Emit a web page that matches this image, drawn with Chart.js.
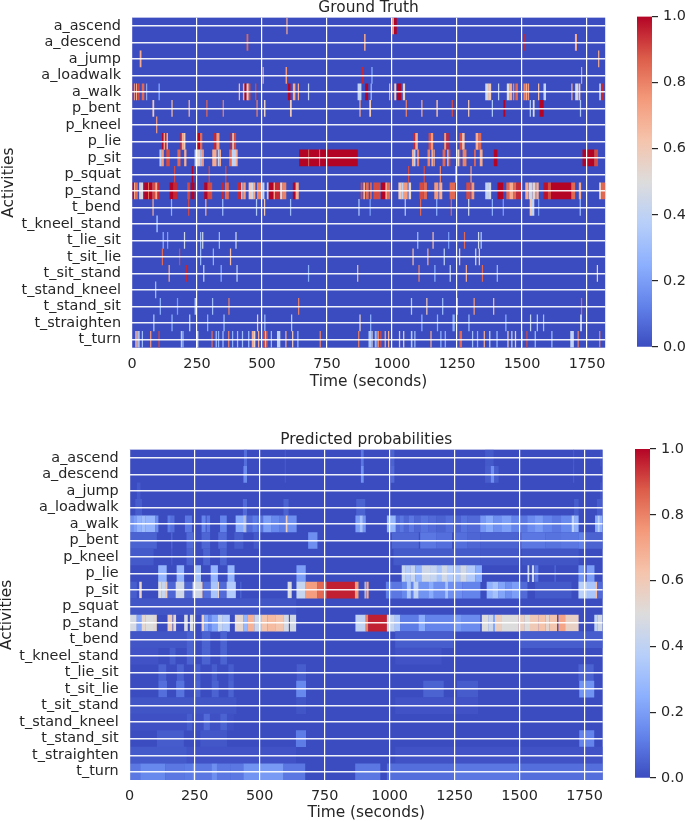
<!DOCTYPE html>
<html>
<head>
<meta charset="utf-8">
<title>Ground truth and predicted probabilities</title>
<script src="https://cdn.jsdelivr.net/npm/chart.js@4"></script>
<style>
  html, body { margin: 0; padding: 0; background: #fff; }
  #page { position: relative; width: 685px; height: 821px; overflow: hidden; }
  canvas { position: absolute; }
</style>
</head>
<body>
<div id="page">
  <canvas id="truthChart" width="620" height="393" style="left:0;top:-2px"></canvas>
  <canvas id="truthBar" width="65" height="391" style="left:620px;top:0"></canvas>
  <canvas id="predChart" width="620" height="392" style="left:-2px;top:430px"></canvas>
  <canvas id="predBar" width="65" height="389" style="left:618px;top:432px"></canvas>
</div>
<script>
const activities = ['a_ascend', 'a_descend', 'a_jump', 'a_loadwalk', 'a_walk', 'p_bent', 'p_kneel', 'p_lie', 'p_sit', 'p_squat',
  'p_stand', 't_bend', 't_kneel_stand', 't_lie_sit', 't_sit_lie', 't_sit_stand', 't_stand_kneel', 't_stand_sit', 't_straighten', 't_turn'];
const timeMax = 1820;
const coolwarmStops = ['#3b4cc0', '#6282ea', '#8db0fe', '#b7cff9', '#dddcdc', '#f5c4ac', '#f49a7b', '#dc5d4a', '#b40426'];

// every segment is [start second, end second, value]
// ground truth
const gtAscend = [[594,598,.7],[1001,1008,.75],[1008,1018,1]];
const gtDescend = [[441,447,.85],[893,898,.7],[1509,1514,.95],[1704,1711,.7]];
const gtJump = [[30,36,.7],[1793,1797,.7]];
const gtLoadwalk = [[503,506,.65],[591,596,.75],[885,892,.95],[921,925,.25],[1728,1731,.65]];
const gtWalk = [[3,8,.95],[8,11,.6],[11,15,1],[15,19,.7],[22,29,.9],[38,47,.85],[55,58,.3],[102,107,.2],[411,415,.65],[427,433,.7],[433,441,1],[441,449,.6],[449,455,.9],
  [474,478,.9],[600,609,1],[619,628,.7],[638,642,.7],[677,681,.4],[868,882,.4],[897,908,1],[918,922,.3],[989,993,.7],[1009,1016,.6],[1019,1034,1],[1042,1050,.55],
  [1359,1370,.45],[1370,1381,.6],[1408,1412,.4],[1442,1452,.5],[1452,1461,.7],[1465,1470,.8],[1475,1484,.85],[1506,1512,.8],[1514,1519,.7],[1522,1527,.75],
  [1562,1566,.65],[1583,1592,.4],[1690,1694,.7],[1705,1716,.45],[1718,1724,.6],[1797,1804,.35],[1804,1814,.95]];
const gtBent = [[79,85,.6],[152,156,.65],[218,222,.65],[286,290,.85],[349,353,.8],[479,483,.8],[508,513,.55],[608,614,.6],[875,879,.7],[913,919,.6],[1053,1057,.8],
  [1113,1117,.7],[1171,1176,.65],[1230,1234,.9],[1293,1297,.6],[1384,1388,.35],[1429,1435,1],[1530,1534,.35],[1542,1548,.5],[1568,1583,1],[1723,1727,.35]];
const gtKneel = [[93,97,.75]];
const gtLie = [[116,122,1],[122,127,.7],[127,133,.95],[133,138,.7],[186,192,.95],[192,199,.7],[199,205,.6],[252,262,1],[262,270,.85],[315,325,.95],[325,336,.75],
  [379,386,.95],[386,392,.6],[392,400,.9],[1081,1090,.95],[1090,1099,.7],[1141,1150,.9],[1150,1158,.75],[1201,1209,.75],[1209,1218,.95],[1260,1270,.9],[1270,1279,.65],[1322,1332,.7],[1332,1343,.85]];
const gtSit = [[106,112,.35],[112,122,.75],[132,145,.9],[175,186,.85],[201,209,.7],[241,250,.4],[250,264,.55],[264,270,.3],[270,276,.75],[309,325,.7],[330,336,.4],[336,342,.7],
  [374,384,.85],[384,400,.4],[400,406,.7],[643,678,1],[678,682,.85],[682,720,1],[720,724,.85],[724,868,1],[1077,1085,.7],[1085,1090,.4],[1096,1104,.8],[1137,1146,.8],[1152,1158,.7],[1160,1164,.7],
  [1195,1205,.85],[1212,1218,.75],[1220,1224,.9],[1252,1258,.55],[1258,1262,.85],[1272,1286,.8],[1316,1322,.85],[1338,1348,.7],[1392,1405,1],[1733,1778,1],[1778,1792,.9]];
const gtSquat = [[162,166,.9],[230,235,1],[295,299,.9],[359,363,.9],[1062,1066,.9],[1122,1126,.9],[1184,1188,.8],[1243,1247,.75],[1302,1306,.75]];
const gtStand = [[2,8,1],[8,12,.7],[12,22,.85],[28,34,.55],[34,42,.45],[47,62,1],[62,66,.85],[66,78,1],[78,90,.9],[90,98,.7],[98,106,.95],[145,158,1],[160,175,.95],[213,222,.9],[226,240,1],
  [278,288,1],[292,308,.9],[343,354,.95],[358,372,.85],[405,420,.95],[420,425,.6],[428,437,.75],[449,458,.6],[458,466,.45],[466,474,.7],[481,498,.8],[501,509,.4],[519,526,.35],[526,545,1],[545,550,.7],
  [550,570,.95],[570,578,.55],[578,593,.8],[619,627,1],[630,641,.7],[880,886,.9],[890,896,.7],[900,910,.85],[916,922,.85],[929,955,.9],[958,975,1],[975,981,.7],[981,993,.85],[1025,1036,.6],[1036,1045,.4],[1045,1060,.75],[1064,1073,.55],
  [1106,1120,.9],[1122,1134,.85],[1163,1178,.75],[1182,1193,.7],[1222,1243,.85],[1286,1302,.9],[1306,1316,.75],[1359,1370,.4],[1370,1381,.45],[1406,1427,1],[1440,1452,.85],[1452,1466,.7],[1466,1478,.85],[1478,1497,.95],
  [1513,1525,.7],[1527,1538,.45],[1540,1552,.55],[1555,1564,.7],[1583,1600,.98],[1600,1612,.9],[1612,1690,1],[1690,1704,.85],[1719,1727,.7],[1797,1805,.6],[1808,1820,.85]];
const gtBend = [[79,83,.7],[150,154,.25],[216,220,.9],[282,286,.7],[347,351,.3],[477,481,.35],[508,512,.6],[608,612,.3],[871,875,.35],[914,918,.2],[1049,1053,.35],[1108,1112,.85],[1170,1174,.25],[1226,1230,.85],
  [1293,1297,.45],[1384,1388,.25],[1426,1430,.2],[1530,1538,.6],[1538,1547,.4],[1562,1566,.2],[1722,1726,.3]];
const gtKneelStand = [[94,99,.3]];
const gtLieSit = [[118,122,.25],[135,139,.2],[200,204,.45],[262,266,.3],[270,274,.45],[334,338,.3],[398,402,.45],[1097,1101,.3],[1156,1160,.65],[1216,1220,.2],[1277,1281,.85],[1331,1335,.45],[1341,1345,.35]];
const gtSitLie = [[115,119,.85],[181,185,.9],[262,266,.3],[311,315,.25],[377,381,.65],[1079,1083,.65],[1136,1140,.7],[1199,1203,.4],[1258,1262,.6],[1320,1324,.45],[1334,1338,.6]];
const gtSitStand = [[141,145,.7],[208,212,.95],[274,278,.4],[341,345,.25],[402,406,.4],[677,681,.25],[866,870,.65],[1102,1106,.8],[1163,1167,.25],[1222,1226,.4],[1284,1288,.7],[1346,1350,.85],[1403,1407,.3],[1788,1792,.55]];
const gtStandKneel = [[89,93,.3]];
const gtStandSit = [[107,111,.25],[173,177,.2],[241,246,.35],[308,312,.3],[371,375,.8],[639,643,.8],[1073,1077,.35],[1132,1136,.6],[1193,1197,.3],[1249,1253,.35],[1314,1318,.75],[1389,1393,.65],[1727,1731,.85]];
const gtStraighten = [[82,86,.35],[152,156,.25],[220,224,.4],[289,293,.25],[352,356,.3],[481,485,.6],[509,513,.3],[612,616,.35],[875,879,.55],[916,920,.25],[1113,1117,.25],[1173,1177,.25],[1233,1241,.25],[1294,1298,.3],
  [1436,1440,.25],[1531,1535,.4],[1557,1561,.35],[1581,1585,.3],[1724,1730,.45]];
const gtTurn = [[13,17,.35],[17,22,.7],[24,29,.4],[38,42,.3],[70,74,.75],[102,106,.9],[188,192,.35],[194,198,.3],[247,255,.4],[306,310,.85],[322,326,.3],[331,335,.25],[348,352,.3],[370,374,.8],[385,389,.25],[404,408,.3],
  [423,427,.3],[447,451,.3],[461,468,.7],[468,474,.55],[485,489,.7],[506,512,.9],[512,517,.65],[517,522,.9],[534,538,.3],[558,570,.4],[590,594,.7],[616,620,.6],[636,640,.3],[722,726,.8],[870,874,.8],[910,919,.35],[921,925,.5],[934,938,.3],[940,944,.3],[946,950,.8],
  [955,959,.9],[972,976,.7],[985,989,.7],[1027,1031,.6],[1043,1047,.55],[1073,1078,.35],[1086,1090,.3],[1148,1152,.7],[1186,1190,.25],[1203,1207,.25],[1260,1269,.85],[1308,1312,.3],[1327,1331,.25],[1353,1357,.7],
  [1374,1378,.4],[1402,1406,.3],[1444,1448,.6],[1459,1463,.4],[1473,1477,.6],[1498,1502,.2],[1517,1521,.9],[1549,1553,.3],[1613,1617,.3],[1686,1699,.4],[1714,1718,.8],[1797,1801,.8]];

// predicted probabilities
const prAscend = [[440,451,.08],[597,601,.03],[890,900,.1],[1005,1018,.05],[1368,1400,.03],[1706,1710,.03],[1811,1815,.03]];
const prDescend = [[438,451,.15],[597,601,.03],[890,900,.17],[1005,1018,.07],[1368,1390,.04],[1390,1403,.16],[1403,1419,.04],[1706,1710,.04]];
const prJump = [[28,41,.03],[1810,1817,.02]];
const prLoadwalk = [[22,47,.04],[436,451,.07],[592,611,.05],[872,906,.05],[1710,1727,.04],[1798,1817,.04]];
const prWalk = [[1,14,.16],[14,27,.2],[27,45,.26],[45,60,.3],[60,98,.27],[98,110,.15],[146,158,.11],[158,172,.08],[213,239,.1],[277,292,.13],[296,309,.1],[348,373,.13],[408,437,.24],[437,442,.35],[442,446,.5],[446,450,.32],[450,472,.07],[472,490,.11],[490,514,.09],
  [514,546,.2],[546,575,.14],[575,598,.11],[600,608,.58],[608,642,.16],[869,885,.2],[885,897,.32],[897,908,.18],[990,1024,.28],[1024,1040,.07],[1040,1055,.1],[1055,1075,.06],[1075,1095,.1],[1095,1120,.06],[1120,1150,.09],[1150,1180,.07],[1180,1215,.05],[1215,1245,.08],[1245,1275,.05],
  [1275,1300,.09],[1300,1349,.07],[1349,1370,.18],[1370,1400,.23],[1400,1430,.16],[1430,1470,.2],[1470,1500,.13],[1500,1530,.1],[1530,1560,.15],[1560,1590,.19],[1590,1625,.13],[1625,1660,.1],[1660,1701,.14],[1701,1712,.38],[1712,1727,.26],[1791,1800,.24],[1800,1809,.38],[1809,1819,.26]];
const prBent = [[1,104,.05],[160,164,.07],[219,245,.07],[277,309,.06],[341,373,.07],[403,437,.04],[477,502,.03],[687,722,.16],[1009,1112,.06],[1118,1180,.1],[1180,1240,.08],[1253,1300,.08],[1300,1349,.06],[1349,1496,.05],[1507,1600,.1],[1600,1660,.09],[1660,1727,.1],[1727,1753,.12],[1753,1819,.05]];
const prKneel = [[1,92,.03],[160,164,.04],[219,245,.05],[283,309,.05],[348,373,.05],[1015,1349,.03],[1349,1496,.025],[1510,1727,.02]];
const prLie = [[110,142,.27],[181,209,.27],[248,274,.32],[312,339,.27],[377,403,.27],[642,677,.2],[1047,1060,.42],[1060,1080,.36],[1080,1099,.42],[1099,1124,.27],[1124,1156,.45],[1156,1182,.42],[1182,1199,.33],[1199,1221,.46],[1221,1246,.36],[1246,1272,.33],[1272,1297,.46],[1297,1330,.36],[1330,1355,.24],
  [1531,1537,.42],[1548,1556,.42],[1560,1572,.1],[1635,1639,.07],[1727,1753,.17],[1759,1788,.2]];
const prSit = [[1,27,.04],[37,46,.55],[110,123,.48],[123,139,.42],[139,146,.6],[146,175,.06],[177,210,.45],[213,240,.06],[242,274,.45],[274,280,.6],[283,310,.08],[312,339,.33],[339,344,.55],[346,370,.07],[373,408,.36],[425,430,.05],[608,623,.48],[642,677,.42],[678,722,.74],[722,758,.85],[758,867,.96],[867,880,.75],[904,908,.45],
  [911,919,.7],[986,1009,.12],[1009,1047,.1],[1047,1067,.14],[1067,1082,.34],[1082,1092,.13],[1092,1112,.4],[1112,1150,.17],[1150,1170,.24],[1170,1214,.16],[1214,1225,.32],[1225,1280,.16],[1280,1349,.13],[1374,1395,.26],[1395,1419,.32],[1419,1445,.22],[1445,1470,.16],[1470,1503,.2],[1503,1530,.07],[1560,1700,.03],
  [1727,1760,.38],[1760,1791,.34],[1791,1799,.65],[1799,1819,.07]];
const prSquat = [[2,640,.02]];
const prStand = [[1,27,.47],[27,46,.22],[46,60,.53],[60,90,.5],[90,104,.53],[146,164,.58],[168,178,.53],[210,223,.48],[232,245,.48],[277,287,.58],[287,302,.22],[302,315,.14],[315,340,.22],[340,358,.42],[358,385,.36],[405,437,.53],[437,454,.28],[454,480,.68],[480,508,.44],[508,530,.62],[530,560,.65],[560,591,.62],[591,612,.47],[617,640,.46],
  [869,908,.4],[908,918,.8],[918,990,.96],[990,1020,.42],[1020,1041,.34],[1041,1112,.11],[1112,1137,.24],[1137,1246,.13],[1246,1275,.19],[1275,1349,.15],[1355,1380,.5],[1380,1400,.44],[1400,1406,.22],[1406,1432,.57],[1432,1496,.5],[1496,1520,.57],[1520,1540,.5],[1540,1573,.6],[1573,1600,.63],[1600,1615,.54],[1615,1644,.62],[1650,1676,.72],[1676,1727,.56],[1788,1800,.4],[1800,1819,.46]];
const prBend = [[2,240,.02],[220,246,.05],[278,310,.05],[349,374,.05],[1022,1246,.04],[1503,1819,.04]];
const prKneelStand = [[2,110,.015],[154,176,.04],[220,246,.05],[278,310,.05],[349,374,.05],[1022,1200,.015]];
const prLieSit = [[111,140,.05],[182,208,.05],[252,272,.04],[316,336,.04],[380,400,.04],[643,678,.04],[1727,1785,.05]];
const prSitLie = [[111,143,.08],[179,210,.09],[252,272,.05],[316,342,.05],[380,400,.05],[641,678,.14],[1130,1208,.05],[1260,1340,.035],[1730,1787,.17]];
const prSitStand = [[2,410,.02],[641,678,.02],[1022,1340,.015]];
const prStandKneel = [[2,400,.01],[220,240,.04],[285,308,.07],[349,374,.05]];
const prStandSit = [[105,208,.035],[272,374,.025],[640,678,.11],[1730,1787,.13]];
const prStraighten = [[2,220,.03],[220,640,.015],[1022,1819,.015]];
const prTurn = [[2,41,.1],[41,137,.14],[137,210,.1],[210,243,.11],[243,252,.18],[252,316,.1],[316,336,.16],[336,387,.1],[387,438,.1],[438,502,.17],[502,592,.19],[592,675,.1],[868,964,.1],[990,1246,.08],[1246,1496,.1],[1496,1819,.08]];

const truthRows = [gtAscend, gtDescend, gtJump, gtLoadwalk, gtWalk, gtBent, gtKneel, gtLie, gtSit, gtSquat, gtStand, gtBend, gtKneelStand, gtLieSit, gtSitLie, gtSitStand, gtStandKneel, gtStandSit, gtStraighten, gtTurn];
const predRows = [prAscend, prDescend, prJump, prLoadwalk, prWalk, prBent, prKneel, prLie, prSit, prSquat, prStand, prBend, prKneelStand, prLieSit, prSitLie, prSitStand, prStandKneel, prStandSit, prStraighten, prTurn];

const textColor = '#262626';
const fontFamily = '"DejaVu Sans", sans-serif';

Chart.defaults.font.family = fontFamily;
Chart.defaults.color = textColor;
Chart.defaults.animation = false;

function hexToRgb(hex) {
  return [1, 3, 5].map(i => parseInt(hex.slice(i, i + 2), 16));
}

// colormap lookup, value 0..1
function coolwarm(v) {
  const pos = v * (coolwarmStops.length - 1);
  const i = Math.min(Math.floor(pos), coolwarmStops.length - 2);
  const a = hexToRgb(coolwarmStops[i]);
  const b = hexToRgb(coolwarmStops[i + 1]);
  const c = a.map((n, k) => Math.round(n + (b[k] - n) * (pos - i)));
  return `rgb(${c[0]},${c[1]},${c[2]})`;
}

// fills the plot with the colour of value 0
const zeroBackground = {
  id: 'zeroBackground',
  beforeDatasetsDraw(chart) {
    const { ctx, chartArea: a } = chart;
    ctx.save();
    ctx.fillStyle = coolwarm(0);
    ctx.fillRect(a.left, a.top, a.right - a.left, a.bottom - a.top);
    ctx.restore();
  }
};

function heatmap(id, titleText, rows, plotLeft, plotRight, axisHeight, titleGap) {
  const points = [];
  rows.forEach((row, i) => {
    row.forEach(seg => points.push({ x: [seg[0], seg[1]], y: activities[i], v: seg[2] }));
  });
  return new Chart(document.getElementById(id), {
    type: 'bar',
    plugins: [zeroBackground],
    data: {
      labels: activities,
      datasets: [{
        data: points,
        backgroundColor: c => coolwarm(c.raw ? c.raw.v : 0),
        borderWidth: 0,
        inflateAmount: 0.1,
        barPercentage: 1,
        categoryPercentage: 1
      }]
    },
    options: {
      indexAxis: 'y',
      responsive: false,
      layout: { padding: { right: 620 - plotRight, top: 0, bottom: 0, left: 0 } },
      plugins: {
        legend: { display: false },
        tooltip: { enabled: false },
        title: {
          display: true,
          text: titleText,
          fullSize: false,
          color: textColor,
          font: { size: 15.4, weight: 'normal', lineHeight: 1 },
          padding: { top: 0, bottom: titleGap }
        }
      },
      scales: {
        x: {
          type: 'linear',
          min: 0,
          max: timeMax,
          afterFit: s => { s.height = axisHeight; },
          border: { display: false },
          grid: { color: '#ffffff', lineWidth: 1.2, z: 1, drawTicks: false },
          title: { display: true, text: 'Time (seconds)', color: textColor, font: { size: 15.4 }, padding: 0 },
          ticks: { stepSize: 250, includeBounds: false, autoSkip: false, maxRotation: 0, padding: 8, color: textColor, font: { size: 14.4 }, callback: v => String(v) }
        },
        y: {
          type: 'category',
          afterFit: s => { s.width = plotLeft; },
          border: { display: false },
          grid: { color: 'rgba(255,255,255,0.92)', lineWidth: 1.4, z: 1, drawTicks: false, offset: false },
          title: { display: true, text: 'Activities', color: textColor, font: { size: 15.4 }, padding: 0 },
          ticks: { autoSkip: false, padding: 11, color: textColor, font: { size: 14.4 } }
        }
      }
    }
  });
}

function colorbar(id, barLeft, barWidth, plotTop, axisHeight) {
  return new Chart(document.getElementById(id), {
    type: 'bar',
    data: {
      labels: [''],
      datasets: [{
        data: [[0, 1]],
        borderWidth: 0,
        barPercentage: 1,
        categoryPercentage: 1,
        backgroundColor: c => {
          const area = c.chart.chartArea;
          if (!area) return coolwarm(0);
          const g = c.chart.ctx.createLinearGradient(0, area.bottom, 0, area.top);
          coolwarmStops.forEach((col, i) => g.addColorStop(i / (coolwarmStops.length - 1), col));
          return g;
        }
      }]
    },
    options: {
      responsive: false,
      layout: { padding: { left: barLeft, right: 0, top: plotTop, bottom: axisHeight } },
      plugins: { legend: { display: false }, tooltip: { enabled: false } },
      scales: {
        x: { display: false },
        y: {
          position: 'right',
          min: 0,
          max: 1,
          afterFit: s => { s.width = 65 - barLeft - barWidth; },
          border: { display: false },
          grid: { drawOnChartArea: false, color: textColor, lineWidth: 1.2, tickLength: 6 },
          ticks: { stepSize: 0.2, padding: 5, color: textColor, font: { size: 14.4 }, callback: v => v.toFixed(1) }
        }
      }
    }
  });
}

heatmap('truthChart', 'Ground Truth', truthRows, 132, 605.2, 43.3, 2.3);
colorbar('truthBar', 17, 15, 16.6, 44);
heatmap('predChart', 'Predicted probabilities', predRows, 131.7, 604.7, 42, 2.3);
colorbar('predBar', 17, 15, 17, 43);
</script>
</body>
</html>
